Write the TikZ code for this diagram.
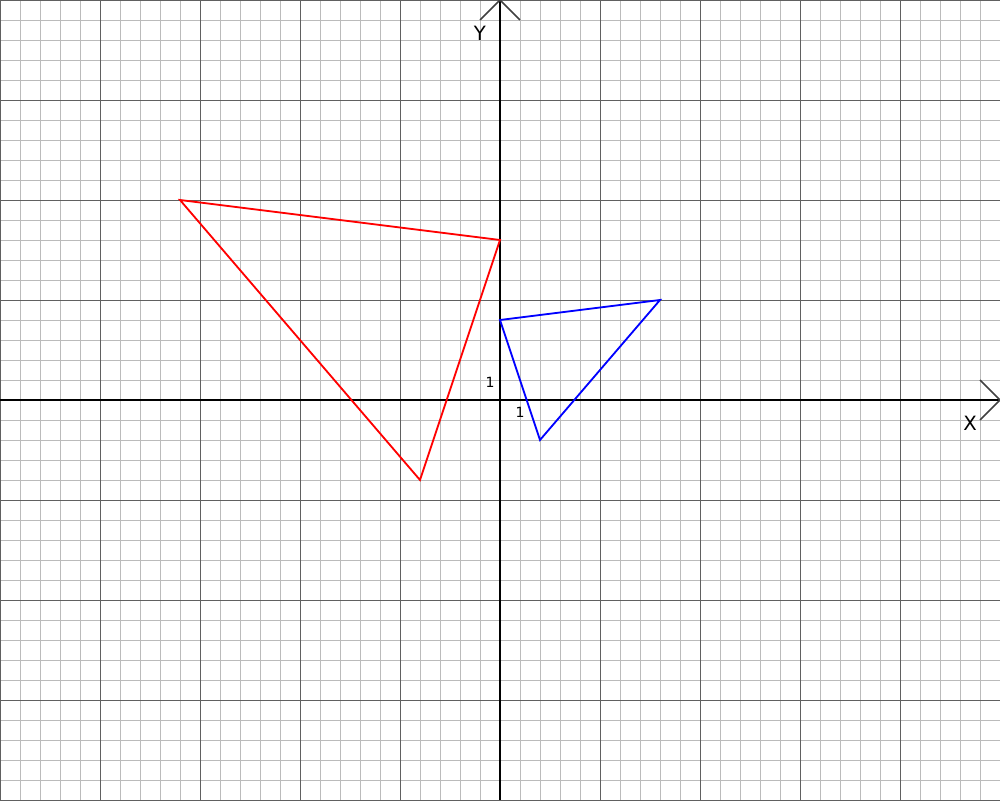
\documentclass[tikz,border=0pt]{standalone}
\usepackage{fontspec}
\setmainfont{DejaVu Sans}
\usetikzlibrary{calc}
\definecolor{minorgrid}{HTML}{BBBBBB}
\definecolor{majorgrid}{HTML}{606060}
\definecolor{tip}{HTML}{404040}

\begin{document}
\begin{tikzpicture}[x=0.5cm, y=0.5cm,
    minor/.style={draw=minorgrid, line width=0.6pt},
    major/.style={draw=majorgrid, line width=0.6pt},
    axis/.style={draw=black, line width=1.4pt},
    chevron/.style={draw=tip, line width=1.1pt},
    tri/.style={line width=1.3pt, line join=miter},
    lbl/.style={font=\fontsize{14}{14}\selectfont, inner sep=0pt},
    tick/.style={font=\fontsize{10}{10}\selectfont, inner sep=0pt}]

  \useasboundingbox (-25,-20) rectangle (25,20);

  % grid
  \draw[minor] (-25,-20) grid[step=1] (25,20);
  \draw[major] (-25,-20) grid[step=5] (25,20);

  % axes
  \coordinate (xl) at (-25,0);
  \coordinate (xr) at (25,0);
  \coordinate (yb) at (0,-20);
  \coordinate (yt) at (0,20);
  \draw[axis] (xl) -- (xr);
  \draw[axis] (yb) -- (yt);
  \draw[chevron] ($(xr)+(-1,1)$) -- (xr) -- ($(xr)+(-1,-1)$);
  \draw[chevron] ($(yt)+(-1,-1)$) -- (yt) -- ($(yt)+(1,-1)$);

  \node[lbl] (xlab) at (23.5,-1.15) {X};
  \node[lbl] (ylab) at (-1,18.35) {Y};
  \node[tick] (one y) at (-0.5,0.9) {1};
  \node[tick] (one x) at (1,-0.6) {1};

  % red triangle
  \coordinate (r1) at (-16,10);
  \coordinate (r2) at (0,8);
  \coordinate (r3) at (-4,-4);
  \draw[tri, red] (r1) -- (r2) -- (r3) -- cycle;

  % blue triangle
  \coordinate (b1) at (0,4);
  \coordinate (b2) at (8,5);
  \coordinate (b3) at (2,-2);
  \draw[tri, blue] (b1) -- (b2) -- (b3) -- cycle;
\end{tikzpicture}
\end{document}
